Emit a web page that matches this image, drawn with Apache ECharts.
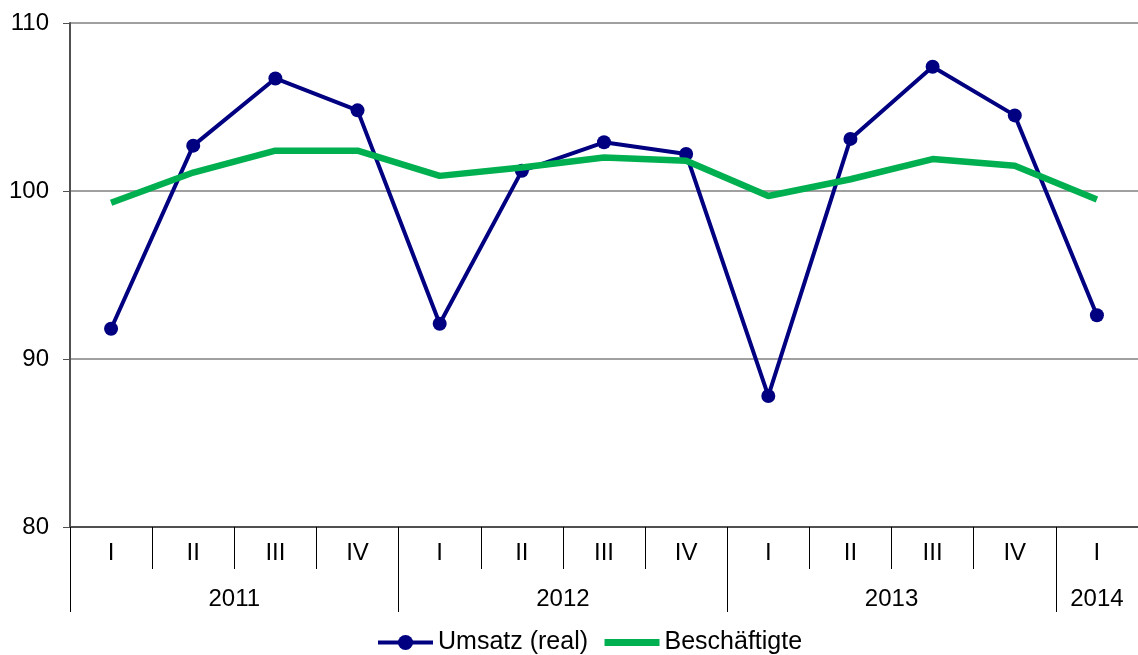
<!DOCTYPE html>
<html>
<head>
<meta charset="utf-8">
<script src="https://cdn.jsdelivr.net/npm/echarts@6/dist/echarts.min.js"></script>
<style>html,body{margin:0;padding:0;background:#fff}#c{width:1138px;height:655px}</style>
</head>
<body>
<div id="c"></div>
<script>
var quarters = ['I','II','III','IV','I','II','III','IV','I','II','III','IV','I'];
var years = ['2011','2012','2013','2014'];
var yearQuarterCounts = [4,4,4,1];
var umsatz = [91.8,102.7,106.7,104.8,92.1,101.2,102.9,102.2,87.8,103.1,107.4,104.5,92.6];
var beschaeftigte = [99.3,101.1,102.4,102.4,100.9,101.4,102.0,101.8,99.7,100.7,101.9,101.5,99.5];
var yTicks = [80,90,100,110];

var yearBounds = [0], yearCenters = [], acc = 0;
yearQuarterCounts.forEach(function(n){ yearCenters.push(acc + n/2); acc += n; yearBounds.push(acc); });

var font = 'Liberation Sans, Arial, sans-serif';
var chart = echarts.init(document.getElementById('c'));
chart.setOption({
  animation:false,
  grid:{left:70,right:0,top:23,bottom:128},
  legend:{
    top:625,left:371,itemWidth:55,itemHeight:19,itemGap:13,
    textStyle:{fontFamily:font,fontSize:25,color:'#000'},
    data:[
      {name:'Umsatz (real)',lineStyle:{width:4}},
      {name:'Beschäftigte',lineStyle:{width:7},itemStyle:{opacity:0}}
    ]
  },
  xAxis:[{
    type:'category',data:quarters,boundaryGap:true,
    axisLine:{show:true,lineStyle:{color:'#505050',width:2}},
    axisTick:{show:true,interval:0,length:42,lineStyle:{color:'#000',width:1}},
    axisLabel:{interval:0,margin:14,fontFamily:font,fontSize:24,color:'#000'},
    splitLine:{show:false}
  },{
    type:'value',min:0,max:quarters.length,position:'bottom',
    axisLine:{show:false},
    axisTick:{show:true,customValues:yearBounds,length:85,lineStyle:{color:'#000',width:1}},
    axisLabel:{customValues:yearCenters,margin:60,fontFamily:font,fontSize:24,color:'#000',
      formatter:function(v){var i=yearCenters.indexOf(v);return i>=0?years[i]:'';}},
    splitLine:{show:false}
  }],
  yAxis:{
    type:'value',min:yTicks[0],max:yTicks[yTicks.length-1],interval:10,
    axisLine:{show:true,lineStyle:{color:'#505050',width:2}},
    axisTick:{show:true,length:7,lineStyle:{color:'#505050',width:1}},
    axisLabel:{margin:21,fontFamily:font,fontSize:24,color:'#000'},
    splitLine:{show:true,lineStyle:{color:'#808080',width:1.5}}
  },
  series:[{
    name:'Umsatz (real)',type:'line',data:umsatz,xAxisIndex:0,
    symbol:'circle',symbolSize:14,
    lineStyle:{color:'#000080',width:4},itemStyle:{color:'#000080'},z:3
  },{
    name:'Beschäftigte',type:'line',data:beschaeftigte,xAxisIndex:0,
    symbol:'none',
    lineStyle:{color:'#00B050',width:6.5},itemStyle:{color:'#00B050'},z:4
  }]
});
</script>
</body>
</html>
